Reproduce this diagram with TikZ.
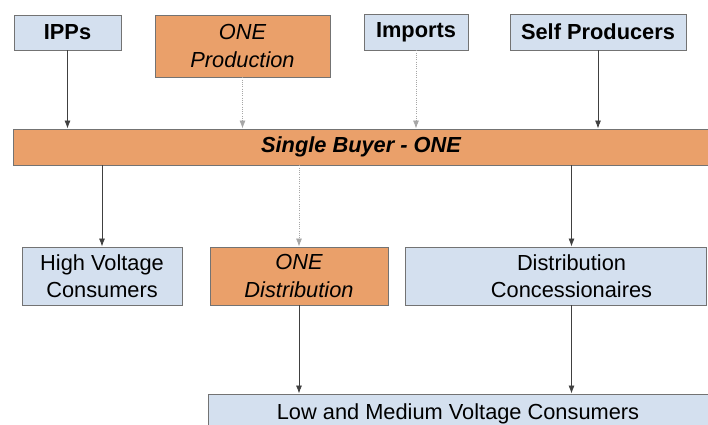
\documentclass[tikz,border=0pt]{standalone}
\usepackage{fontspec}
\setmainfont{Liberation Sans}
\usetikzlibrary{arrows.meta}

\definecolor{paleblue}{RGB}{212,224,239}
\definecolor{onetan}{RGB}{234,160,106}

\begin{document}
\begin{tikzpicture}[x=0.025cm,y=-0.025cm,>=Latex,
  box/.style={draw=black!55,line width=0.6pt,align=center,inner sep=1pt,font=\fontsize{15.5}{19.5}\selectfont},
  bluebox/.style={box,fill=paleblue},
  tanbox/.style={box,fill=onetan,font=\fontsize{15.5}{19.5}\selectfont\itshape},
  flow/.style={->,draw=black!75,line width=0.6pt},
  faint/.style={flow,draw=black!35,densely dotted}]
\useasboundingbox (0,0) rectangle (708,424);
% suppliers
\node[bluebox,minimum width=2.675cm,minimum height=0.875cm,font=\fontsize{15.5}{19.5}\selectfont\bfseries] (ipps) at (67.5,32.5) {IPPs};
\node[tanbox,minimum width=4.375cm,minimum height=1.55cm] (oneprod) at (242.5,46) {ONE\\Production};
\node[bluebox,minimum width=2.6cm,minimum height=0.9cm,font=\fontsize{15.5}{19.5}\selectfont\bfseries] (imports) at (416,32) {Imports};
\node[bluebox,minimum width=4.4cm,minimum height=0.9cm,font=\fontsize{15.5}{19.5}\selectfont\bfseries] (selfprod) at (598,32) {Self Producers};
% single buyer
\node[tanbox,minimum width=17.35cm,minimum height=0.9cm,font=\fontsize{15.5}{19.5}\selectfont\bfseries\itshape] (buyer) at (361,147) {Single Buyer - ONE};
% customers
\node[bluebox,minimum width=4.0cm,minimum height=1.45cm] (hv) at (102,276) {High Voltage\\Consumers};
\node[tanbox,minimum width=4.45cm,minimum height=1.45cm] (onedist) at (299,276) {ONE\\Distribution};
\node[bluebox,minimum width=7.525cm,minimum height=1.45cm] (distconc) at (555.5,276) {\hspace*{0.8cm}Distribution\\\hspace*{0.8cm}Concessionaires};
\node[bluebox,minimum width=12.5cm,minimum height=1.0cm] (lmv) at (458,414) {Low and Medium Voltage Consumers};

\draw[flow] (ipps) -- (ipps |- buyer.north);
\draw[faint] (oneprod) -- (oneprod |- buyer.north);
\draw[faint] (imports) -- (imports |- buyer.north);
\draw[flow] (selfprod) -- (selfprod |- buyer.north);
\draw[flow] (hv |- buyer.south) -- (hv);
\draw[faint] (onedist |- buyer.south) -- (onedist);
\draw[flow] ([xshift=0.4cm]distconc.north |- buyer.south) -- ([xshift=0.4cm]distconc.north);
\draw[flow] (onedist) -- (onedist |- lmv.north);
\draw[flow] ([xshift=0.4cm]distconc.south) -- ([xshift=0.4cm]distconc.south |- lmv.north);
\end{tikzpicture}
\end{document}
